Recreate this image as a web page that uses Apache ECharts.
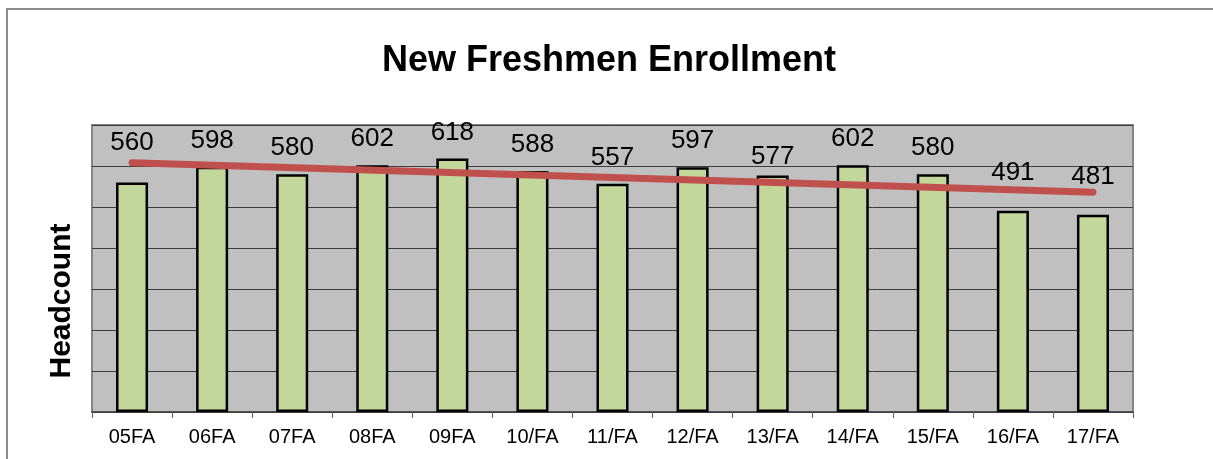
<!DOCTYPE html>
<html>
<head>
<meta charset="utf-8">
<title>New Freshmen Enrollment</title>
<script src="https://cdn.jsdelivr.net/npm/echarts@6/dist/echarts.min.js"></script>
<style>
  html, body { margin: 0; padding: 0; background: #fff; }
  #chart { width: 1213px; height: 459px; }
</style>
</head>
<body>
<div id="chart"></div>
<script>
// terms on the x axis
const terms = ['05FA', '06FA', '07FA', '08FA', '09FA', '10/FA', '11/FA', '12/FA', '13/FA', '14/FA', '15/FA', '16/FA', '17/FA'];
// headcount per term
const headcount = [560, 598, 580, 602, 618, 588, 557, 597, 577, 602, 580, 491, 481];
// linear trend, read at first and last term
const trendEnds = [608, 536];

const FONT = 'Arial, "Liberation Sans", sans-serif';

// label distance above bar (Excel nudged a few to clear the trend line)
const labelDistance = (i) => {
  if (i === 0) return 27;
  if (i === 11 || i === 12) return 25;
  if (i === 8) return 6;
  return 13;
};

const chart = echarts.init(document.getElementById('chart'));

chart.setOption({
  animation: false,
  graphic: [
    {
      type: 'rect',
      shape: { x: 7, y: 9, width: 1300, height: 600 },
      style: { fill: 'none', stroke: '#8c8c8c', lineWidth: 2 },
      silent: true
    },
    {
      // y axis title, placed like the original (below the plot's middle)
      type: 'text',
      x: 62,
      y: 301,
      rotation: Math.PI / 2,
      style: {
        text: 'Headcount',
        font: 'bold 30px ' + FONT,
        fill: '#000',
        align: 'center',
        verticalAlign: 'middle'
      },
      silent: true
    }
  ],
  title: {
    text: 'New Freshmen Enrollment',
    left: 604,
    top: 38,
    textAlign: 'center',
    textStyle: { fontFamily: FONT, fontSize: 36, fontWeight: 'bold', color: '#000' }
  },
  grid: {
    left: 92,
    right: 80,
    top: 125,
    bottom: 47,
    show: true,
    backgroundColor: '#c0c0c0',
    borderColor: '#858585',
    borderWidth: 2
  },
  xAxis: {
    type: 'category',
    data: terms,
    axisLine: { show: true, lineStyle: { color: '#404040', width: 1.5 } },
    axisTick: { show: true, length: 6, lineStyle: { color: '#606060' } },
    axisLabel: { fontFamily: FONT, fontSize: 20, color: '#000', margin: 15 }
  },
  yAxis: {
    type: 'value',
    min: 0,
    max: 700,
    interval: 100,
    axisLabel: { show: false },
    axisTick: { show: false },
    axisLine: { show: false },
    splitLine: { lineStyle: { color: '#3c3c3c', width: 1 } }
  },
  series: [
    {
      type: 'bar',
      barWidth: '40%',
      z: 2,
      itemStyle: { color: '#c4d79b', borderColor: '#000', borderWidth: 2.5 },
      data: headcount.map((v, i) => ({
        value: v,
        label: {
          show: true,
          position: 'top',
          distance: labelDistance(i),
          fontFamily: FONT,
          fontSize: 26,
          color: '#000'
        }
      }))
    },
    {
      type: 'line',
      z: 3,
      symbol: 'none',
      lineStyle: { color: '#c0504d', width: 7, cap: 'round' },
      data: [[0, trendEnds[0]], [terms.length - 1, trendEnds[1]]]
    }
  ]
});
</script>
</body>
</html>
